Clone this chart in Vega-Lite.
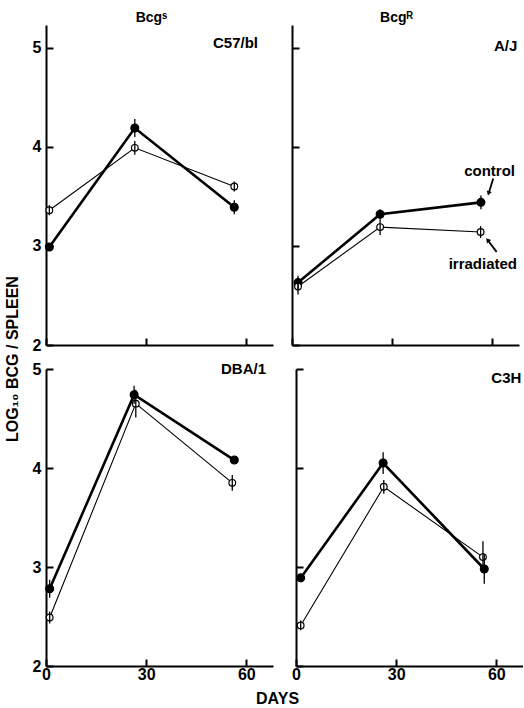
{
  "$schema": "https://vega.github.io/schema/vega-lite/v6.json",
  "padding": {"left": 5, "top": 11, "right": 0, "bottom": 0},
  "background": "white",
  "datasets": {
    "pts": [
      {"panel": "C57/bl", "group": "control", "day": 1, "y": 2.99, "lo": 2.95, "hi": 3.03},
      {"panel": "C57/bl", "group": "control", "day": 26.6, "y": 4.19, "lo": 4.10, "hi": 4.28},
      {"panel": "C57/bl", "group": "control", "day": 56.4, "y": 3.39, "lo": 3.32, "hi": 3.46},
      {"panel": "C57/bl", "group": "irradiated", "day": 1, "y": 3.36, "lo": 3.31, "hi": 3.41},
      {"panel": "C57/bl", "group": "irradiated", "day": 26.6, "y": 3.99, "lo": 3.92, "hi": 4.06},
      {"panel": "C57/bl", "group": "irradiated", "day": 56.4, "y": 3.60, "lo": 3.55, "hi": 3.65},
      {"panel": "A/J", "group": "control", "day": 1.8, "y": 2.63, "lo": 2.56, "hi": 2.70},
      {"panel": "A/J", "group": "control", "day": 26.4, "y": 3.32, "lo": 3.27, "hi": 3.37},
      {"panel": "A/J", "group": "control", "day": 56.6, "y": 3.44, "lo": 3.37, "hi": 3.51},
      {"panel": "A/J", "group": "irradiated", "day": 1.8, "y": 2.59, "lo": 2.51, "hi": 2.67},
      {"panel": "A/J", "group": "irradiated", "day": 26.4, "y": 3.19, "lo": 3.11, "hi": 3.27},
      {"panel": "A/J", "group": "irradiated", "day": 56.5, "y": 3.14, "lo": 3.08, "hi": 3.20},
      {"panel": "DBA/1", "group": "control", "day": 1.1, "y": 2.78, "lo": 2.69, "hi": 2.87},
      {"panel": "DBA/1", "group": "control", "day": 26.4, "y": 4.74, "lo": 4.65, "hi": 4.83},
      {"panel": "DBA/1", "group": "control", "day": 56.4, "y": 4.08, "lo": 4.05, "hi": 4.11},
      {"panel": "DBA/1", "group": "irradiated", "day": 1.1, "y": 2.49, "lo": 2.43, "hi": 2.55},
      {"panel": "DBA/1", "group": "irradiated", "day": 26.9, "y": 4.65, "lo": 4.51, "hi": 4.79},
      {"panel": "DBA/1", "group": "irradiated", "day": 55.8, "y": 3.85, "lo": 3.77, "hi": 3.93},
      {"panel": "C3H", "group": "control", "day": 1.4, "y": 2.89, "lo": 2.86, "hi": 2.92},
      {"panel": "C3H", "group": "control", "day": 26.1, "y": 4.05, "lo": 3.94, "hi": 4.16},
      {"panel": "C3H", "group": "control", "day": 56.4, "y": 2.98, "lo": 2.83, "hi": 3.13},
      {"panel": "C3H", "group": "irradiated", "day": 1.4, "y": 2.41, "lo": 2.36, "hi": 2.46},
      {"panel": "C3H", "group": "irradiated", "day": 26.3, "y": 3.81, "lo": 3.74, "hi": 3.88},
      {"panel": "C3H", "group": "irradiated", "day": 56.0, "y": 3.10, "lo": 2.94, "hi": 3.26}
    ],
    "labels": [
      {"panel": "C57/bl", "day": 63.5, "y": 5.0, "text": "C57/bl"},
      {"panel": "A/J", "day": 67.5, "y": 4.97, "text": "A/J"},
      {"panel": "A/J", "day": 66.8, "y": 3.71, "text": "control"},
      {"panel": "A/J", "day": 67.4, "y": 2.77, "text": "irradiated"},
      {"panel": "DBA/1", "day": 65.9, "y": 4.95, "text": "DBA/1"},
      {"panel": "C3H", "day": 67.5, "y": 4.86, "text": "C3H"}
    ],
    "arrows": [
      {"panel": "A/J", "x1": 60.3, "y1": 3.68, "x2": 58.9, "y2": 3.53, "angle": 197},
      {"panel": "A/J", "x1": 61.3, "y1": 2.94, "x2": 58.6, "y2": 3.06, "angle": 321}
    ]
  },
  "title": {"text": "LOG₁₀ BCG / SPLEEN", "orient": "left", "anchor": "middle", "font": "Liberation Sans", "fontSize": 16, "fontWeight": "bold", "color": "black", "offset": 11},
  "vconcat": [
    {
      "title": {"text": "DAYS", "orient": "bottom", "anchor": "middle", "font": "Liberation Sans", "fontSize": 16, "fontWeight": "bold", "color": "black", "offset": 9},
      "spacing": 8,
      "vconcat": [
        {
          "spacing": 18,
          "hconcat": [
            {
              "width": 227, "height": 320,
              "title": {"text": "Bcgˢ", "anchor": "middle", "offset": 0, "dx": -8},
              "layer": [
                {"data": {"name": "pts"}, "transform": [{"filter": "datum.panel === 'C57/bl'"}],
                 "mark": {"type": "line", "color": "black"},
                 "encoding": {
                   "x": {"field": "day", "type": "quantitative", "scale": {"domain": [0, 68], "nice": false}, "axis": {"values": [0, 30, 60], "labels": false}},
                   "y": {"field": "y", "type": "quantitative", "scale": {"domain": [2, 5.23], "nice": false, "zero": false}, "axis": {"values": [2, 3, 4, 5], "format": "d"}},
                   "detail": {"field": "group"},
                   "strokeWidth": {"field": "group", "type": "nominal", "scale": {"domain": ["control", "irradiated"], "range": [2.6, 1.1]}, "legend": null}
                 }},
                {"data": {"name": "pts"}, "transform": [{"filter": "datum.panel === 'C57/bl'"}],
                 "mark": {"type": "point", "filled": true, "stroke": "black", "strokeWidth": 1.2, "opacity": 1},
                 "encoding": {
                   "x": {"field": "day", "type": "quantitative"},
                   "y": {"field": "y", "type": "quantitative"},
                   "size": {"field": "group", "type": "nominal", "scale": {"domain": ["control", "irradiated"], "range": [62, 45]}, "legend": null},
                   "fill": {"field": "group", "type": "nominal", "scale": {"domain": ["control", "irradiated"], "range": ["black", "white"]}, "legend": null}
                 }},
                {"data": {"name": "pts"}, "transform": [{"filter": "datum.panel === 'C57/bl'"}],
                 "mark": {"type": "rule", "color": "black", "strokeWidth": 1.3},
                 "encoding": {
                   "x": {"field": "day", "type": "quantitative"},
                   "y": {"field": "lo", "type": "quantitative"},
                   "y2": {"field": "hi"}
                 }},
                {"data": {"name": "labels"}, "transform": [{"filter": "datum.panel === 'C57/bl'"}],
                 "mark": {"type": "text", "align": "right", "baseline": "alphabetic", "font": "Liberation Sans", "fontWeight": "bold", "fontSize": 15, "color": "black"},
                 "encoding": {
                   "x": {"field": "day", "type": "quantitative"},
                   "y": {"field": "y", "type": "quantitative"},
                   "text": {"field": "text"}
                 }}
              ]
            },
            {
              "width": 227, "height": 320,
              "title": {"text": "Bcgᴿ", "anchor": "middle", "offset": 0, "dx": -9},
              "layer": [
                {"data": {"name": "pts"}, "transform": [{"filter": "datum.panel === 'A/J'"}],
                 "mark": {"type": "line", "color": "black"},
                 "encoding": {
                   "x": {"field": "day", "type": "quantitative", "scale": {"domain": [0, 68], "nice": false}, "axis": {"values": [0, 30, 60], "labels": false}},
                   "y": {"field": "y", "type": "quantitative", "scale": {"domain": [2, 5.23], "nice": false, "zero": false}, "axis": {"values": [2, 3, 4, 5], "labels": false}},
                   "detail": {"field": "group"},
                   "strokeWidth": {"field": "group", "type": "nominal", "scale": {"domain": ["control", "irradiated"], "range": [2.6, 1.1]}, "legend": null}
                 }},
                {"data": {"name": "pts"}, "transform": [{"filter": "datum.panel === 'A/J'"}],
                 "mark": {"type": "point", "filled": true, "stroke": "black", "strokeWidth": 1.2, "opacity": 1},
                 "encoding": {
                   "x": {"field": "day", "type": "quantitative"},
                   "y": {"field": "y", "type": "quantitative"},
                   "size": {"field": "group", "type": "nominal", "scale": {"domain": ["control", "irradiated"], "range": [62, 45]}, "legend": null},
                   "fill": {"field": "group", "type": "nominal", "scale": {"domain": ["control", "irradiated"], "range": ["black", "white"]}, "legend": null}
                 }},
                {"data": {"name": "pts"}, "transform": [{"filter": "datum.panel === 'A/J'"}],
                 "mark": {"type": "rule", "color": "black", "strokeWidth": 1.3},
                 "encoding": {
                   "x": {"field": "day", "type": "quantitative"},
                   "y": {"field": "lo", "type": "quantitative"},
                   "y2": {"field": "hi"}
                 }},
                {"data": {"name": "labels"}, "transform": [{"filter": "datum.panel === 'A/J'"}],
                 "mark": {"type": "text", "align": "right", "baseline": "alphabetic", "font": "Liberation Sans", "fontWeight": "bold", "fontSize": 15, "color": "black"},
                 "encoding": {
                   "x": {"field": "day", "type": "quantitative"},
                   "y": {"field": "y", "type": "quantitative"},
                   "text": {"field": "text"}
                 }},
                {"data": {"name": "arrows"},
                 "mark": {"type": "rule", "color": "black", "strokeWidth": 1.8},
                 "encoding": {
                   "x": {"field": "x1", "type": "quantitative"},
                   "y": {"field": "y1", "type": "quantitative"},
                   "x2": {"field": "x2"},
                   "y2": {"field": "y2"}
                 }},
                {"data": {"name": "arrows"},
                 "mark": {"type": "point", "shape": "triangle-up", "filled": true, "color": "black", "size": 28, "opacity": 1},
                 "encoding": {
                   "x": {"field": "x2", "type": "quantitative"},
                   "y": {"field": "y2", "type": "quantitative"},
                   "angle": {"field": "angle", "type": "quantitative", "scale": null}
                 }}
              ]
            }
          ]
        },
        {
          "spacing": 18,
          "hconcat": [
            {
              "width": 227, "height": 297,
              "layer": [
                {"data": {"name": "pts"}, "transform": [{"filter": "datum.panel === 'DBA/1'"}],
                 "mark": {"type": "line", "color": "black"},
                 "encoding": {
                   "x": {"field": "day", "type": "quantitative", "scale": {"domain": [0, 68], "nice": false}, "axis": {"values": [0, 30, 60], "format": "d"}},
                   "y": {"field": "y", "type": "quantitative", "scale": {"domain": [2, 5], "nice": false, "zero": false}, "axis": {"values": [2, 3, 4, 5], "format": "d"}},
                   "detail": {"field": "group"},
                   "strokeWidth": {"field": "group", "type": "nominal", "scale": {"domain": ["control", "irradiated"], "range": [2.6, 1.1]}, "legend": null}
                 }},
                {"data": {"name": "pts"}, "transform": [{"filter": "datum.panel === 'DBA/1'"}],
                 "mark": {"type": "point", "filled": true, "stroke": "black", "strokeWidth": 1.2, "opacity": 1},
                 "encoding": {
                   "x": {"field": "day", "type": "quantitative"},
                   "y": {"field": "y", "type": "quantitative"},
                   "size": {"field": "group", "type": "nominal", "scale": {"domain": ["control", "irradiated"], "range": [62, 45]}, "legend": null},
                   "fill": {"field": "group", "type": "nominal", "scale": {"domain": ["control", "irradiated"], "range": ["black", "white"]}, "legend": null}
                 }},
                {"data": {"name": "pts"}, "transform": [{"filter": "datum.panel === 'DBA/1'"}],
                 "mark": {"type": "rule", "color": "black", "strokeWidth": 1.3},
                 "encoding": {
                   "x": {"field": "day", "type": "quantitative"},
                   "y": {"field": "lo", "type": "quantitative"},
                   "y2": {"field": "hi"}
                 }},
                {"data": {"name": "labels"}, "transform": [{"filter": "datum.panel === 'DBA/1'"}],
                 "mark": {"type": "text", "align": "right", "baseline": "alphabetic", "font": "Liberation Sans", "fontWeight": "bold", "fontSize": 15, "color": "black"},
                 "encoding": {
                   "x": {"field": "day", "type": "quantitative"},
                   "y": {"field": "y", "type": "quantitative"},
                   "text": {"field": "text"}
                 }}
              ]
            },
            {
              "width": 227, "height": 297,
              "layer": [
                {"data": {"name": "pts"}, "transform": [{"filter": "datum.panel === 'C3H'"}],
                 "mark": {"type": "line", "color": "black"},
                 "encoding": {
                   "x": {"field": "day", "type": "quantitative", "scale": {"domain": [0, 68], "nice": false}, "axis": {"values": [0, 30, 60], "format": "d"}},
                   "y": {"field": "y", "type": "quantitative", "scale": {"domain": [2, 5], "nice": false, "zero": false}, "axis": {"values": [2, 3, 4, 5], "labels": false}},
                   "detail": {"field": "group"},
                   "strokeWidth": {"field": "group", "type": "nominal", "scale": {"domain": ["control", "irradiated"], "range": [2.6, 1.1]}, "legend": null}
                 }},
                {"data": {"name": "pts"}, "transform": [{"filter": "datum.panel === 'C3H'"}],
                 "mark": {"type": "point", "filled": true, "stroke": "black", "strokeWidth": 1.2, "opacity": 1},
                 "encoding": {
                   "x": {"field": "day", "type": "quantitative"},
                   "y": {"field": "y", "type": "quantitative"},
                   "size": {"field": "group", "type": "nominal", "scale": {"domain": ["control", "irradiated"], "range": [62, 45]}, "legend": null},
                   "fill": {"field": "group", "type": "nominal", "scale": {"domain": ["control", "irradiated"], "range": ["black", "white"]}, "legend": null}
                 }},
                {"data": {"name": "pts"}, "transform": [{"filter": "datum.panel === 'C3H'"}],
                 "mark": {"type": "rule", "color": "black", "strokeWidth": 1.3},
                 "encoding": {
                   "x": {"field": "day", "type": "quantitative"},
                   "y": {"field": "lo", "type": "quantitative"},
                   "y2": {"field": "hi"}
                 }},
                {"data": {"name": "labels"}, "transform": [{"filter": "datum.panel === 'C3H'"}],
                 "mark": {"type": "text", "align": "right", "baseline": "alphabetic", "font": "Liberation Sans", "fontWeight": "bold", "fontSize": 15, "color": "black"},
                 "encoding": {
                   "x": {"field": "day", "type": "quantitative"},
                   "y": {"field": "y", "type": "quantitative"},
                   "text": {"field": "text"}
                 }}
              ]
            }
          ]
        }
      ]
    }
  ],
  "config": {
    "view": {"stroke": null},
    "font": "Liberation Sans",
    "title": {"font": "Liberation Sans", "fontSize": 14, "fontWeight": "bold", "color": "black"},
    "axis": {
      "grid": false,
      "title": null,
      "domainColor": "black",
      "domainWidth": 2,
      "tickColor": "black",
      "tickWidth": 2,
      "tickSize": -7,
      "labelFont": "Liberation Sans",
      "labelFontWeight": "bold",
      "labelFontSize": 16,
      "labelColor": "black",
      "labelFlush": false,
      "labelOverlap": false
    },
    "axisX": {"labelPadding": 7},
    "axisY": {"labelPadding": 12}
  }
}
